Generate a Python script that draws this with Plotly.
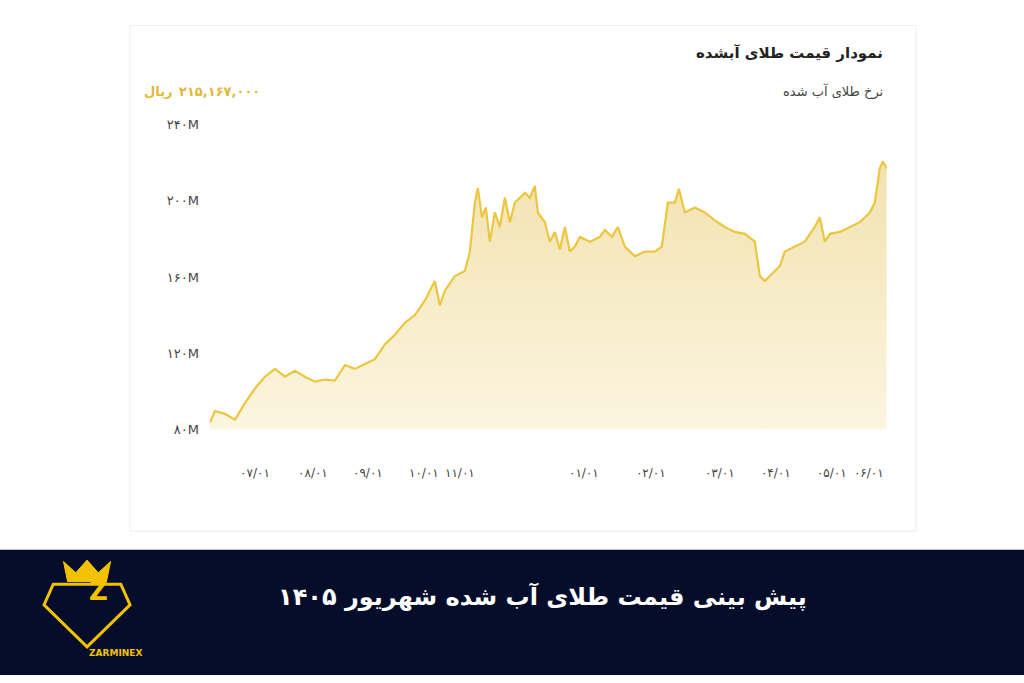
import plotly.graph_objects as go

# day index and price (million rial)
days = [0, 5, 15, 25, 35, 45, 55, 65, 75, 85, 95, 105, 115, 125, 135, 145, 155, 165, 175, 185,
        195, 205, 215, 220, 225, 230, 235, 245, 255, 260, 265, 268, 272, 276, 280, 285, 290, 295,
        300, 305, 310, 315, 320, 325, 328, 335, 340, 345, 350, 355, 360, 365, 370, 380, 390, 395,
        402, 408, 415, 425, 435, 445, 452, 458, 465, 469, 475, 485, 495, 505, 515, 525, 535, 545,
        550, 555, 565, 570, 575, 585, 595, 605, 610, 615, 620, 630, 640, 650, 660, 665, 670, 673, 677]
price = [83.6, 89.7, 88.2, 85.1, 93.8, 101.5, 107.7, 111.8, 107.7, 110.8, 107.7, 105.1, 106.2,
         105.6, 113.8, 111.8, 114.4, 116.9, 124.6, 129.7, 135.9, 140.0, 147.7, 152.8, 157.9, 145.1,
         152.8, 160.5, 163.1, 173.3, 199.0, 206.7, 191.3, 196.4, 178.5, 193.8, 186.2, 201.5, 188.7,
         199.0, 201.5, 204.1, 201.5, 207.7, 193.8, 188.7, 178.5, 183.6, 174.4, 186.2, 173.3, 175.9,
         181.0, 178.5, 181.0, 184.6, 181.0, 186.2, 175.9, 170.8, 173.3, 173.3, 175.9, 199.0, 199.0,
         206.2, 193.8, 196.4, 193.8, 189.7, 186.2, 183.6, 182.6, 178.5, 160.5, 157.9, 163.1, 165.6,
         173.3, 175.9, 178.5, 186.2, 191.3, 178.5, 182.6, 183.6, 186.2, 188.7, 193.8, 199.0, 216.9,
         220.5, 216.9]

tick_days = [45, 103, 158, 214, 250, 374, 441, 510, 566, 622, 659]
tick_text = ["۰۷/۰۱", "۰۸/۰۱", "۰۹/۰۱", "۱۰/۰۱", "۱۱/۰۱", "۰۱/۰۱", "۰۲/۰۱",
             "۰۳/۰۱", "۰۴/۰۱", "۰۵/۰۱", "۰۶/۰۱"]
y_ticks = [80, 120, 160, 200, 240]
y_text = ["۸۰M", "۱۲۰M", "۱۶۰M", "۲۰۰M", "۲۴۰M"]
last_price = "۲۱۵,۱۶۷,۰۰۰"

GOLD = "#ecc63f"
LOGO = "#f2c200"
FONT = "DejaVu Sans"

fig = go.Figure(go.Scatter(
    x=days, y=price, mode="lines",
    line=dict(color=GOLD, width=2.2),
    fill="tozeroy",
    fillgradient=dict(type="vertical",
                      colorscale=[[0, "rgba(236,198,63,0)"], [1, "rgba(225,190,80,0.45)"]]),
    hoverinfo="skip",
))

fig.update_layout(
    width=1024, height=683,
    margin=dict(l=0, r=0, t=0, b=0),
    paper_bgcolor="white", plot_bgcolor="rgba(0,0,0,0)",
    showlegend=False,
    font=dict(family=FONT),
    xaxis=dict(domain=[0.205, 0.866], range=[0, 677], showgrid=False, zeroline=False,
               tickvals=tick_days, ticktext=tick_text, ticks="", ticklabelstandoff=34,
               tickfont=dict(size=12, color="#444")),
    yaxis=dict(domain=[0.3675, 0.8243], range=[80, 240], showgrid=False, zeroline=False,
               tickvals=y_ticks, ticktext=y_text, ticklabelstandoff=10,
               tickfont=dict(size=13, color="#444")),
    shapes=[
        dict(type="rect", xref="paper", yref="paper", x0=130/1024, x1=916/1024,
             y0=1-536/683, y1=1-19/683, line=dict(color="#eeeeee", width=1),
             fillcolor="white", layer="below"),
        dict(type="rect", xref="paper", yref="paper", x0=0, x1=1, y0=0, y1=1-555/683,
             line=dict(width=0), fillcolor="#050d2b"),
        # simple logo: diamond with crown
        dict(type="path", xref="paper", yref="paper",
             path="M 0.052 0.136 L 0.118 0.136 L 0.127 0.105 L 0.085 0.042 L 0.043 0.105 Z",
             line=dict(color=LOGO, width=3)),
        dict(type="path", xref="paper", yref="paper",
             path="M 0.066 0.14 L 0.062 0.17 L 0.074 0.153 L 0.085 0.172 L 0.096 0.153 L 0.108 0.17 L 0.104 0.14 Z",
             fillcolor=LOGO, line=dict(color=LOGO, width=1)),
    ],
    annotations=[
        dict(text="<b>نمودار قیمت طلای آبشده</b>", xref="paper", yref="paper",
             x=885/1024, y=1-47/683, xanchor="right", yanchor="middle", showarrow=False,
             font=dict(size=15, color="#222")),
        dict(text="نرخ طلای آب شده", xref="paper", yref="paper",
             x=885/1024, y=1-86/683, xanchor="right", yanchor="middle", showarrow=False,
             font=dict(size=13, color="#444")),
        dict(text="<b>ریال</b>", xref="paper", yref="paper",
             x=142/1024, y=1-86/683, xanchor="left", yanchor="middle", showarrow=False,
             font=dict(size=13, color="#e0b93a")),
        dict(text="<b>" + last_price + "</b>", xref="paper", yref="paper",
             x=262/1024, y=1-86/683, xanchor="right", yanchor="middle", showarrow=False,
             font=dict(size=13, color="#e0b93a")),
        dict(text="<b>Z</b>", xref="paper", yref="paper", x=0.085, y=0.1, showarrow=False,
             font=dict(size=26, color=LOGO)),
        dict(text="<b>ZARMINEX</b>", xref="paper", yref="paper", x=0.085, y=1-668/683,
             showarrow=False, font=dict(size=9, color=LOGO)),
        dict(text="<b>پیش بینی قیمت طلای آب شده شهریور ۱۴۰۵</b>", xref="paper", yref="paper",
             x=0.53, y=1-620/683, showarrow=False, font=dict(size=24, color="white")),
    ],
)

fig.write_html("out.html", config={"displayModeBar": False},
               post_script="document.body.style.margin='0';")
